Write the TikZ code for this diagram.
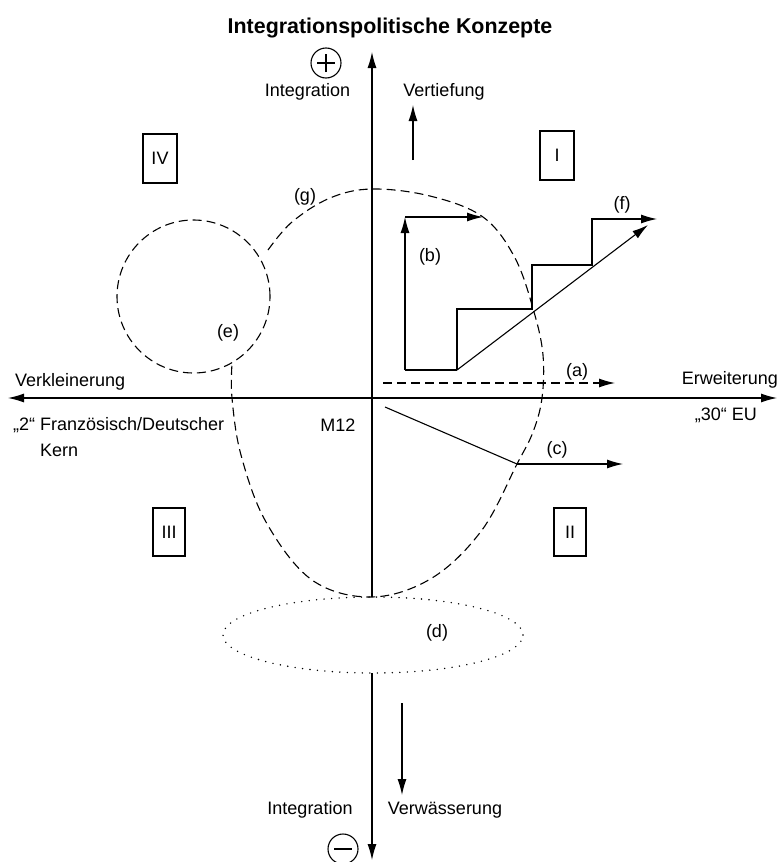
\documentclass[tikz,border=0pt]{standalone}
\usepackage{fontspec}
\setmainfont{Liberation Sans}
\usetikzlibrary{arrows.meta,shapes.geometric}
\begin{document}
\begin{tikzpicture}[x=1pt,y=-1pt,
  lw/.style={line width=1.1pt},
  tip/.tip={Latex[length=16pt,width=9pt]},
  arr/.style={lw,-tip},
  dsh/.style={lw,dash pattern=on 9pt off 5pt},
  dts/.style={line width=1.6pt,line cap=round,dash pattern=on 0pt off 7.5pt},
  lbl/.style={font=\fontsize{18}{22}\selectfont, inner sep=0pt},
  rbox/.style={draw, lw, minimum width=34pt, minimum height=49pt, inner sep=0pt, font=\fontsize{18}{22}\selectfont},
  sgn/.style={draw, lw, circle, minimum size=30pt, inner sep=0pt}
]
\useasboundingbox (0,0) rectangle (780,862);
\fill[white] (0,0) rectangle (780,862);

% title
\node[font=\bfseries\fontsize{21.4}{25}\selectfont, inner sep=0pt] (title) at (390,28) {Integrationspolitische Konzepte};

% coordinates
\coordinate (vtop) at (372,52);
\coordinate (vmid) at (372,597);
\coordinate (vlow) at (372,673);
\coordinate (vbot) at (372,860);
\coordinate (hl) at (8,398);
\coordinate (hr) at (777,398);

% axes
\draw[arr] (vmid) -- (vtop);
\draw[arr] (vlow) -- (vbot);
\draw[lw,tip-tip] (hl) -- (hr);

% signs
\node[sgn] (plus) at (326,63) {};
\draw[lw] ([xshift=-9pt]plus.center) -- ([xshift=9pt]plus.center);
\draw[lw] ([yshift=-9pt]plus.center) -- ([yshift=9pt]plus.center);
\node[sgn] (minus) at (343,849) {};
\draw[lw] ([xshift=-9pt]minus.center) -- ([xshift=9pt]minus.center);

% axis labels
\node[lbl] (inttop) at (307.5,92) {Integration};
\node[lbl] (vert) at (444,92) {Vertiefung};
\node[lbl, anchor=west] (verk) at (15,382) {Verkleinerung};
\node[lbl, anchor=east] (erw) at (778,380) {Erweiterung};
\node[lbl, anchor=east] (eu30) at (757,415) {„30“ EU};
\node[lbl, anchor=west] (fd) at (13,425) {„2“ Französisch/Deutscher};
\node[lbl, anchor=west] (kern) at (40,450) {Kern};
\node[lbl] (m12) at (338,425) {M12};
\node[lbl] (intbot) at (310,810) {Integration};
\node[lbl] (verw) at (445,810) {Verwässerung};

% Vertiefung / Verwaesserung arrows
\coordinate (vt0) at (413,160);
\coordinate (vt1) at (413,105);
\draw[arr] (vt0) -- (vt1);
\coordinate (vw0) at (402,703);
\coordinate (vw1) at (402,795);
\draw[arr] (vw0) -- (vw1);

% quadrant boxes
\node[rbox] (qIV) at (160,158.5) {IV};
\node[rbox] (qI) at (557,155.5) {I};
\node[rbox, minimum width=32pt, minimum height=48pt] (qIII) at (169,532) {III};
\node[rbox, minimum width=32pt, minimum height=48pt] (qII) at (570,532) {II};

% small circle (e)
\node[draw, circle, dsh, minimum size=153pt, inner sep=0pt] (ecirc) at (193.5,296.5) {};

% big ellipse (g)
\draw[dsh] plot[smooth, tension=0.6] coordinates {
 (268,250) (292,222) (330,198) (372,189) (430,196) (483,217) (515,258)
 (534,312) (543,355) (542,398) (533,432) (517,464) (482,530) (432,578)
 (372,597) (312,580) (266,522) (241,455) (232,398) (232,364)};

% (d) ellipse
\node[draw, ellipse, dts, minimum width=300pt, minimum height=76pt, inner sep=0pt] (dell) at (373,635) {};

% (a)
\coordinate (a0) at (383,383);
\coordinate (a1) at (615,383);
\draw[arr, dash pattern=on 9pt off 5pt] (a0) -- (a1);

% (b) and staircase
\coordinate (s0) at (405,370);
\coordinate (s1) at (457,370);
\coordinate (s2) at (457,309);
\coordinate (s3) at (532,309);
\coordinate (s4) at (532,265);
\coordinate (s5) at (592,265);
\coordinate (s6) at (592,219);
\coordinate (s7) at (657,219);
\coordinate (b1) at (405,217);
\coordinate (b2) at (483,217);
\draw[lw] (s0) -- (s1);
\draw[arr] (s0) -- (b1);
\draw[arr] (b1) -- (b2);
\draw[arr] (s1) -- (s2) -- (s3) -- (s4) -- (s5) -- (s6) -- (s7);
\coordinate (f1) at (648,225);
\draw[arr] (s1) -- (f1);

% (c)
\coordinate (c0) at (385,407);
\coordinate (c1) at (517,464);
\coordinate (c2) at (623,464);
\draw[lw] (c0) -- (c1);
\draw[arr] (c1) -- (c2);

% letter labels
\node[lbl] (lg) at (305,197) {(g)};
\node[lbl] (lb) at (430,257) {(b)};
\node[lbl] (lf) at (622,205) {(f)};
\node[lbl] (le) at (228,333) {(e)};
\node[lbl] (la) at (577,372) {(a)};
\node[lbl] (lc) at (557,450) {(c)};
\node[lbl] (ld) at (437,633) {(d)};
\end{tikzpicture}
\end{document}
